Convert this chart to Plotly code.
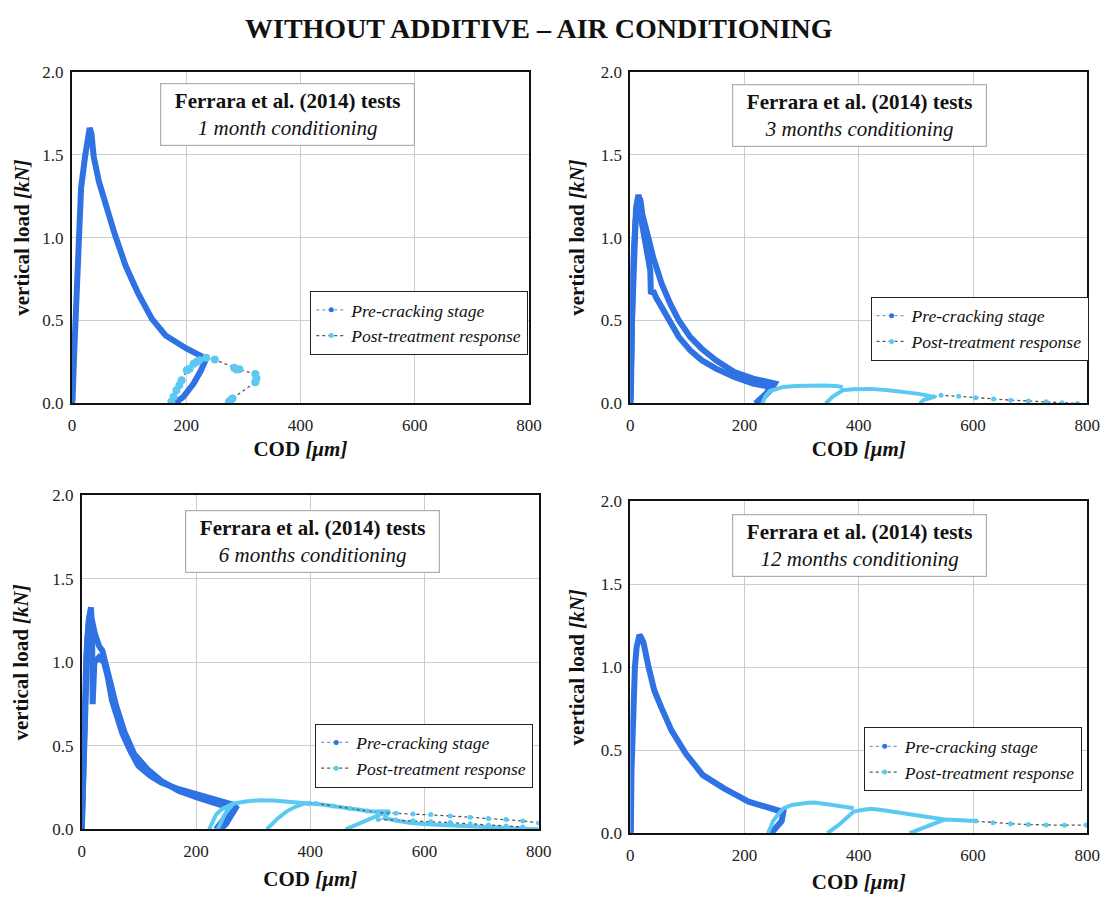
import plotly.graph_objects as go

# ---------------- data ----------------
panel_labels = ["1 month conditioning", "3 months conditioning",
                "6 months conditioning", "12 months conditioning"]
x_ticks = [0, 200, 400, 600, 800]
y_ticks = [0.0, 0.5, 1.0, 1.5, 2.0]

# Panel 1 : 1 month
p1_pre_x = [0, 1, 4, 10, 16, 23, 28, 31, 34, 38, 47, 60, 75, 94, 115, 140, 164, 201, 229, 235, 226, 213, 195, 180]
p1_pre_y = [0, 0.02, 0.31, 0.90, 1.30, 1.49, 1.60, 1.66, 1.63, 1.49, 1.34, 1.18, 1.02, 0.83, 0.67, 0.51, 0.41, 0.33, 0.285, 0.27, 0.20, 0.12, 0.04, 0.0]
p1_post_x = []
p1_post_y = []
p1_tail_x = [174, 178, 183, 188, 192, 201, 206, 213, 218, 223, 235, 250, 284, 288, 293, 321, 323, 321, 281, 278, 275]
p1_tail_y = [0.01, 0.04, 0.08, 0.11, 0.14, 0.20, 0.21, 0.24, 0.25, 0.26, 0.275, 0.265, 0.216, 0.205, 0.206, 0.177, 0.15, 0.128, 0.03, 0.02, 0.01]

# Panel 2 : 3 months (two pre-cracking branches)
p2_pre_x = [0, 1, 3, 6, 10, 14, 18, 21, 26, 30, 33, 40, 55, 70, 85, 105, 125, 150, 182, 215, 253, 248, 240, 231, 223,
            None, 0, 2, 5, 9, 13, 17, 22, 27, 32, 35, 36, 40, 45, 55, 70, 85, 105, 125, 150, 182, 215, 245, 238, 229, 219]
p2_pre_y = [0, 0.05, 0.5, 0.95, 1.18, 1.257, 1.22, 1.14, 1.06, 1.0, 0.98, 0.88, 0.72, 0.60, 0.50, 0.40, 0.33, 0.26, 0.19, 0.15, 0.12, 0.09, 0.06, 0.02, 0.0,
            None, 0, 0.4, 0.85, 1.10, 1.20, 1.15, 1.05, 0.98, 0.90, 0.80, 0.66, 0.68, 0.64, 0.58, 0.48, 0.40, 0.32, 0.26, 0.21, 0.16, 0.12, 0.10, 0.06, 0.03, 0.0]
p2_post_x = [231, 236, 244, 256, 268, 290, 311, 335, 360, 372, None,
             342, 348, 354, 363, 372, 390, 421, 452, 483, 505, 519, 531, None,
             507, 513, 522, 531]
p2_post_y = [0.0, 0.04, 0.075, 0.09, 0.10, 0.105, 0.108, 0.108, 0.106, 0.098, None,
             0.0, 0.02, 0.04, 0.06, 0.08, 0.086, 0.088, 0.08, 0.069, 0.058, 0.049, 0.04, None,
             0.0, 0.02, 0.03, 0.04]
p2_tail_x = [531, 544, 575, 605, 636, 666, 697, 728, 756, 783]
p2_tail_y = [0.04, 0.049, 0.043, 0.035, 0.027, 0.02, 0.015, 0.01, 0.005, 0.0]

# Panel 3 : 6 months (two pre-cracking specimens)
p3_pre_x = [0, 2, 5, 8, 12, 15, 16, 18, 19, 19, 22, 30, 39, 45, 53, 62, 71, 85, 99, 120, 139, 170, 203, 235, 266, 270, 262, 252, 242,
            None, 0, 3, 6, 10, 14, 18, 23, 30, 36, 42, 50, 60, 75, 92, 115, 139, 170, 203, 235, 258, 253, 243, 235]
p3_pre_y = [0, 0.34, 0.73, 1.05, 1.25, 1.32, 1.33, 1.2, 0.95, 0.75, 1.0, 1.03, 1.0, 0.92, 0.77, 0.66, 0.575, 0.47, 0.38, 0.32, 0.28, 0.24, 0.205, 0.17, 0.146, 0.13, 0.08, 0.03, 0.0,
            None, 0, 0.45, 0.85, 1.15, 1.28, 1.25, 1.17, 1.10, 1.07, 1.0, 0.88, 0.74, 0.58, 0.45, 0.36, 0.29, 0.23, 0.19, 0.16, 0.13, 0.08, 0.03, 0.0]
p3_post_x = [223, 228, 235, 245, 257, 266, 290, 312, 335, 352, 375, 398, None,
             238, 243, 250, 258, 266, None,
             324, 333, 343, 358, 374, 390, 398, 420, 450, 480, 507, 539, 530, 555, 576, 620, 668, 720, 770, 800, None,
             462, 475, 490, 507, 522, 539]
p3_post_y = [0, 0.04, 0.088, 0.12, 0.14, 0.155, 0.168, 0.174, 0.172, 0.168, 0.16, 0.155, None,
             0, 0.04, 0.088, 0.125, 0.155, None,
             0, 0.035, 0.065, 0.106, 0.135, 0.155, 0.155, 0.148, 0.135, 0.12, 0.106, 0.106, 0.067, 0.05, 0.037, 0.027, 0.018, 0.01, 0.004, 0.0, None,
             0, 0.02, 0.045, 0.067, 0.088, 0.106]
p3_tail_x = [398, 410, 440, 470, 500, 518, 550, 580, 611, 645, 680, 712, 743, 772, 800, None,
             519, 550, 580, 611, 645, 680, 712, 743, 772]
p3_tail_y = [0.155, 0.155, 0.14, 0.125, 0.11, 0.10, 0.096, 0.092, 0.088, 0.08, 0.072, 0.065, 0.059, 0.05, 0.038, None,
             0.059, 0.055, 0.051, 0.047, 0.04, 0.033, 0.026, 0.02, 0.014]

# Panel 4 : 12 months
p4_pre_x = [0, 1, 2, 5, 8, 11, 14, 16, 19, 23, 32, 42, 54, 72, 97, 127, 164, 207, 256, 268, 265, 258, 250, 244]
p4_pre_y = [0, 0.014, 0.37, 0.76, 1.0, 1.12, 1.18, 1.195, 1.18, 1.15, 1.0, 0.86, 0.76, 0.62, 0.48, 0.35, 0.27, 0.19, 0.14, 0.13, 0.073, 0.04, 0.014, 0.0]
p4_post_x = [241, 245, 250, 258, 268, 283, 299, 311, 323, 340, 360, 375, 391, None,
             345, 355, 366, 378, 391, 405, 421, 440, 460, 483, 505, 528, 550, None,
             489, 503, 519, 535, 550, 570, 590, 605]
p4_post_y = [0, 0.035, 0.073, 0.11, 0.15, 0.17, 0.18, 0.183, 0.185, 0.178, 0.17, 0.16, 0.15, None,
             0, 0.025, 0.053, 0.09, 0.13, 0.14, 0.147, 0.14, 0.13, 0.12, 0.105, 0.093, 0.082, None,
             0, 0.02, 0.043, 0.062, 0.082, 0.08, 0.076, 0.073]
p4_tail_x = [605, 635, 666, 697, 728, 760, 798]
p4_tail_y = [0.073, 0.063, 0.057, 0.052, 0.049, 0.048, 0.049]

panels = [
    (p1_pre_x, p1_pre_y, p1_post_x, p1_post_y, p1_tail_x, p1_tail_y),
    (p2_pre_x, p2_pre_y, p2_post_x, p2_post_y, p2_tail_x, p2_tail_y),
    (p3_pre_x, p3_pre_y, p3_post_x, p3_post_y, p3_tail_x, p3_tail_y),
    (p4_pre_x, p4_pre_y, p4_post_x, p4_post_y, p4_tail_x, p4_tail_y),
]

# ---------------- layout geometry ----------------
W, H = 1117, 899
areas = [(69, 533, 64, 403), (636, 1100, 64, 403), (79, 543, 497, 838), (636, 1100, 503, 842)]
box_centres = [(288, 108), (869, 109), (313, 544), (869, 548)]
legend_pos = [(311, 288), (880, 294), (316, 730), (873, 734)]
ytitle_standoff = [7, 10, 18, 10]
xtitle_standoff = [7, 7, 12, 11]

BLUE = "#2f72e4"
CYAN = "#5cc9f3"
SERIF = "Liberation Serif"

fig = go.Figure()
legend_names = ["legend", "legend2", "legend3", "legend4"]

for i, (prex, prey, postx, posty, tailx, taily) in enumerate(panels):
    ax = "" if i == 0 else str(i + 1)
    xa, ya = "x" + ax, "y" + ax
    lg = legend_names[i]
    msize = 8 if i == 0 else 5
    fig.add_trace(go.Scatter(x=prex, y=prey, xaxis=xa, yaxis=ya, mode="lines",
                             line=dict(color=BLUE, width=6), showlegend=False, hoverinfo="skip"))
    if postx:
        fig.add_trace(go.Scatter(x=postx, y=posty, xaxis=xa, yaxis=ya, mode="lines",
                                 line=dict(color=CYAN, width=4), showlegend=False, hoverinfo="skip"))
    fig.add_trace(go.Scatter(x=tailx, y=taily, xaxis=xa, yaxis=ya, mode="lines+markers",
                             line=dict(color="#555555", width=1.3, dash="dot"),
                             marker=dict(color=CYAN, size=msize), showlegend=False, hoverinfo="skip"))
    fig.add_trace(go.Scatter(x=[None], y=[None], xaxis=xa, yaxis=ya, mode="lines+markers",
                             name="<i>Pre-cracking stage</i>", legend=lg,
                             line=dict(color="#7f9cc8", width=1.3, dash="dot"),
                             marker=dict(color=BLUE, size=5)))
    fig.add_trace(go.Scatter(x=[None], y=[None], xaxis=xa, yaxis=ya, mode="lines+markers",
                             name="<i>Post-treatment response</i>", legend=lg,
                             line=dict(color="#555555", width=1.3, dash="dot"),
                             marker=dict(color=CYAN, size=5)))

layout = dict(
    width=W, height=H,
    margin=dict(l=0, r=0, t=0, b=0),
    paper_bgcolor="white", plot_bgcolor="white",
    font=dict(family=SERIF, color="#111111", size=17),
    annotations=[],
)

for i, (l, r, t, b) in enumerate(areas):
    ax = "" if i == 0 else str(i + 1)
    xdom = [l / W, r / W]
    ydom = [1 - b / H, 1 - t / H]
    common = dict(showgrid=True, gridcolor="#c9cfcf", gridwidth=1, zeroline=False,
                  showline=True, linecolor="#111111", linewidth=2, mirror=True,
                  ticks="", tickfont=dict(family=SERIF, size=17, color="#222222"))
    layout["xaxis" + ax] = dict(domain=xdom, range=[0, 800], tickvals=x_ticks,
                                anchor="y" + ax, ticklabelstandoff=5,
                                title=dict(text="COD <i>[μm]</i>", standoff=xtitle_standoff[i],
                                           font=dict(family=SERIF, size=21, weight="bold")),
                                **common)
    layout["yaxis" + ax] = dict(domain=ydom, range=[0, 2.0], tickvals=y_ticks,
                                tickformat=".1f", anchor="x" + ax, ticklabelstandoff=3,
                                title=dict(text="vertical load <i>[kN]</i>", standoff=ytitle_standoff[i],
                                           font=dict(family=SERIF, size=21, weight="bold")),
                                **common)
    cx, cy = box_centres[i]
    layout["annotations"].append(dict(
        x=cx / W, y=1 - cy / H, xref="paper", yref="paper", xanchor="center", yanchor="middle",
        text="<b>Ferrara et al. (2014) tests</b><br><i>" + panel_labels[i] + "</i>",
        showarrow=False, font=dict(family=SERIF, size=21, color="#111111"),
        bgcolor="white", bordercolor="#aab0b0", borderwidth=1.2, borderpad=4,
        width=245, height=53, align="center"))
    lx, ly = legend_pos[i]
    layout[legend_names[i]] = dict(
        x=lx / W, y=1 - ly / H, xref="paper", yref="paper", xanchor="left", yanchor="top",
        bgcolor="white", bordercolor="#222222", borderwidth=1,
        font=dict(family=SERIF, size=17.5, color="#111111"),
        itemwidth=30, tracegroupgap=0)

layout["annotations"].append(dict(
    x=543 / W, y=1 - 20 / H, xref="paper", yref="paper", xanchor="center", yanchor="middle",
    text="<b>WITHOUT ADDITIVE – AIR CONDITIONING</b>", showarrow=False,
    font=dict(family=SERIF, size=28, color="#111111")))

fig.update_layout(**layout)
fig.write_html("out.html")
